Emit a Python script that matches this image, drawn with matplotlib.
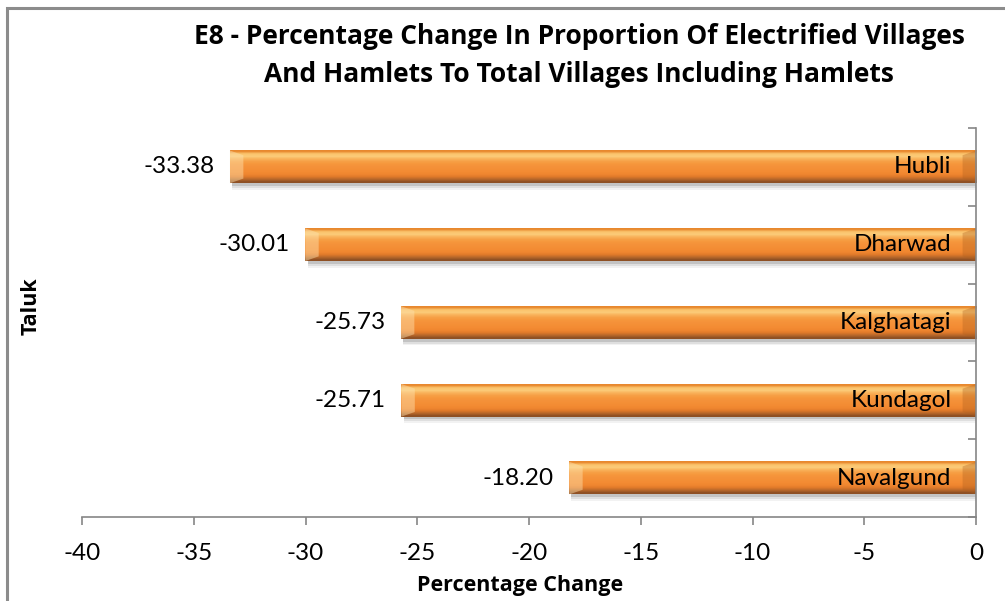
import numpy as np
import matplotlib
matplotlib.use("Agg")
from matplotlib import pyplot as plt
from matplotlib.patches import Rectangle, Polygon
from matplotlib.colors import to_rgb

talukas = ["Hubli", "Dharwad", "Kalghatagi", "Kundagol", "Navalgund"]
changes = [-33.38, -30.01, -25.73, -25.71, -18.20]
xticks = [-40, -35, -30, -25, -20, -15, -10, -5, 0]

plt.rcParams['font.family'] = ['Lato', 'DejaVu Sans']
BOLD = ['Open Sans', 'DejaVu Sans']

W, H = 1005, 601
fig = plt.figure(figsize=(W / 100, H / 100), dpi=100)
ax = fig.add_axes([82 / W, 1 - 517 / H, (976 - 82) / W, (517 - 128) / H])

# vertical colour profile for the bevelled orange bars (top -> bottom)
profile = ["#E8882E", "#FBC46C", "#FCCB78", "#F9B25A", "#F7A046", "#F6973C",
           "#F5923A", "#F48F36", "#F38B33", "#F08630", "#E07A2A", "#B8672A", "#8E5024"]
grad = np.array([to_rgb(c) for c in profile])[:, None, :]

bar_h = 0.42
bev = 0.6   # width of the end bevel, in data units
ys = np.arange(len(talukas))
for y, v, name in zip(ys, changes, talukas):
    # soft shadow under the bar
    for k, a in enumerate([0.12, 0.08, 0.05]):
        ax.add_patch(Rectangle((v + 0.1, y - bar_h / 2 + 0.035 + k * 0.025), -v - 0.1, bar_h,
                               facecolor="black", alpha=a, edgecolor="none", zorder=1))
    ax.imshow(grad, extent=(v, 0, y + bar_h / 2, y - bar_h / 2), aspect='auto',
              origin='upper', interpolation='bilinear', zorder=2)
    top, bot = y - bar_h / 2, y + bar_h / 2
    # light bevel on the left end, darker bevel on the right end
    ax.add_patch(Polygon([(v, top), (v + bev, top + 0.06), (v + bev, bot - 0.06), (v, bot)],
                         closed=True, facecolor="#FDE2B0", alpha=0.45, edgecolor="none", zorder=2.5))
    ax.add_patch(Polygon([(0, top), (-bev, top + 0.06), (-bev, bot - 0.06), (0, bot)],
                         closed=True, facecolor="#B0601E", alpha=0.35, edgecolor="none", zorder=2.5))
    ax.text(v - 0.7, y, f"{v:.2f}", ha='right', va='center', fontsize=17.5, color='black')
    ax.text(-1.1, y, name, ha='right', va='center', fontsize=17.5, color='black', zorder=3)

ax.set_xlim(-40, 0)
ax.set_ylim(len(talukas) - 0.5, -0.5)
ax.set_xticks(xticks)
ax.set_xticklabels([str(t) for t in xticks], fontsize=17.5)
ax.set_yticks(np.arange(-0.5, len(talukas), 1.0))
ax.set_yticklabels([])
ax.yaxis.tick_right()

for s in ['left', 'top']:
    ax.spines[s].set_visible(False)
for s in ['bottom', 'right']:
    ax.spines[s].set_color('#868686')
    ax.spines[s].set_linewidth(1.2)
ax.tick_params(axis='x', direction='out', length=6, width=1.2, color='#868686', pad=13)
ax.tick_params(axis='y', direction='in', length=6, width=1.2, color='#868686')

fig.text(579 / W, 1 - 36 / H, "E8 - Percentage Change In Proportion Of Electrified Villages",
         ha='center', va='center', fontsize=19, fontweight='bold', family=BOLD)
fig.text(579 / W, 1 - 74 / H, "And Hamlets To Total Villages Including Hamlets",
         ha='center', va='center', fontsize=19, fontweight='bold', family=BOLD)
fig.text(520 / W, 1 - 586 / H, "Percentage Change", ha='center', va='center',
         fontsize=15.5, fontweight='bold', family=BOLD)
fig.text(31 / W, 1 - 306 / H, "Taluk", ha='center', va='center', rotation=90,
         fontsize=15.5, fontweight='bold', family=BOLD)

# outer chart frame (cropped on the right and bottom)
fig.add_artist(Rectangle((7 / W, -0.05), 1.1, 1 - 8 / H + 0.05, transform=fig.transFigure,
                         fill=False, edgecolor='#8C8C8C', linewidth=2.2))

fig.savefig("out.png", dpi=100)
